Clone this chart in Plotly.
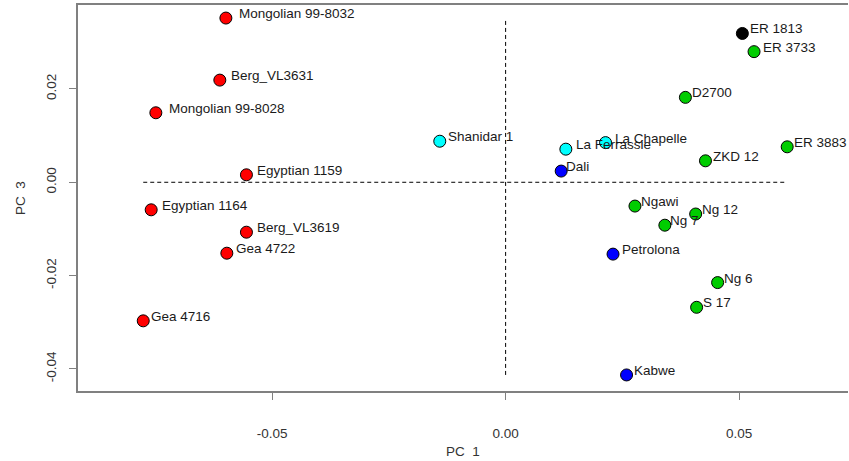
import plotly.graph_objects as go

# Specimen scores on principal components 1 and 3
names = [
    "Mongolian 99-8032", "Berg_VL3631", "Mongolian 99-8028", "Egyptian 1159",
    "Egyptian 1164", "Berg_VL3619", "Gea 4722", "Gea 4716",
    "Shanidar 1", "La Ferrassie", "La Chapelle",
    "Dali", "Petrolona", "Kabwe",
    "D2700", "ER 3733", "ZKD 12", "ER 3883", "Ngawi", "Ng 12", "Ng 7", "Ng 6", "S 17",
    "ER 1813",
]
pc1 = [
    -0.0599, -0.0612, -0.0749, -0.0555,
    -0.0759, -0.0555, -0.0597, -0.0776,
    -0.0141, 0.0129, 0.0214,
    0.0119, 0.0230, 0.0259,
    0.0385, 0.0532, 0.0428, 0.0603, 0.0277, 0.0407, 0.0341, 0.0454, 0.0409,
    0.0507,
]
pc3 = [
    0.0352, 0.0219, 0.0149, 0.0016,
    -0.0059, -0.0107, -0.0152, -0.0297,
    0.0088, 0.0071, 0.0085,
    0.0024, -0.0154, -0.0413,
    0.0182, 0.0280, 0.0046, 0.0076, -0.0051, -0.0068, -0.0092, -0.0215, -0.0268,
    0.0319,
]
groups = (
    ["modern"] * 8
    + ["neanderthal"] * 3
    + ["middle"] * 3
    + ["erectus"] * 9
    + ["ergaster"]
)

group_colors = {
    "modern": "#FF0000",
    "neanderthal": "#00FFFF",
    "middle": "#0000FF",
    "erectus": "#00CD00",
    "ergaster": "#000000",
}

# horizontal pixel nudge of each name label away from its point
label_nudge = [
    11, 9, 11, 9,
    9, 9, 7, 6,
    6, 8, 7,
    3, 7, 5,
    5, 7, 6, 5, 4, 4, 3, 4, 4,
    6,
]

FONT = "Liberation Sans, Arial, sans-serif"
AXIS_GREY = "#808080"

fig = go.Figure()

# dashed reference lines through the origin, spanning the data
fig.add_shape(type="line", x0=min(pc1), x1=max(pc1), y0=0, y1=0,
              line=dict(color="#000000", width=1, dash="4px,3px"), layer="below")
fig.add_shape(type="line", x0=0, x1=0, y0=min(pc3), y1=max(pc3),
              line=dict(color="#000000", width=1, dash="4px,3px"), layer="below")

for g, col in group_colors.items():
    idx = [i for i, gg in enumerate(groups) if gg == g]
    fig.add_trace(go.Scatter(
        x=[pc1[i] for i in idx],
        y=[pc3[i] for i in idx],
        mode="markers",
        marker=dict(size=12, color=col, line=dict(color="#000000", width=1)),
        name=g,
        hoverinfo="text",
        text=[names[i] for i in idx],
    ))

for n, x, y, dx in zip(names, pc1, pc3, label_nudge):
    fig.add_annotation(
        x=x, y=y, text=n, showarrow=False,
        xanchor="left", yanchor="middle",
        xshift=dx, yshift=4.5,
        font=dict(family=FONT, size=13.5, color="#1a1a1a"),
    )

# axis titles
fig.add_annotation(
    xref="paper", yref="paper", x=0.5, y=0, yshift=-60,
    text="PC  1", showarrow=False, xanchor="center", yanchor="middle",
    font=dict(family=FONT, size=13.5, color="#333333"),
)
fig.add_annotation(
    xref="paper", yref="paper", x=0, y=0.5, xshift=-58,
    text="PC  3", textangle=-90, showarrow=False, xanchor="center", yanchor="middle",
    font=dict(family=FONT, size=13.5, color="#333333"),
)

fig.update_layout(
    width=849, height=461,
    margin=dict(l=78, r=1, t=5, b=70),
    paper_bgcolor="#FFFFFF", plot_bgcolor="#FFFFFF",
    showlegend=False,
    xaxis=dict(
        range=[-0.09157, 0.07332],
        tickvals=[-0.05, 0.0, 0.05],
        ticktext=["-0.05", "0.00", "0.05"],
        showgrid=False, zeroline=False,
        showline=True, linecolor=AXIS_GREY, linewidth=1.5, mirror=True,
        ticks="outside", ticklen=7, tickcolor=AXIS_GREY, tickwidth=1,
        ticklabelstandoff=22,
        tickfont=dict(family=FONT, size=13.5, color="#333333"),
    ),
    yaxis=dict(
        range=[-0.04474, 0.0380],
        tickvals=[-0.04, -0.02, 0.0, 0.02],
        ticktext=["-0.04", "-0.02", "0.00", "0.02"],
        tickangle=-90,
        showgrid=False, zeroline=False,
        showline=True, linecolor=AXIS_GREY, linewidth=1.5,
        ticks="outside", ticklen=7, tickcolor=AXIS_GREY, tickwidth=1,
        ticklabelstandoff=8,
        tickfont=dict(family=FONT, size=13.5, color="#333333"),
    ),
)

fig.write_html("out.html")
